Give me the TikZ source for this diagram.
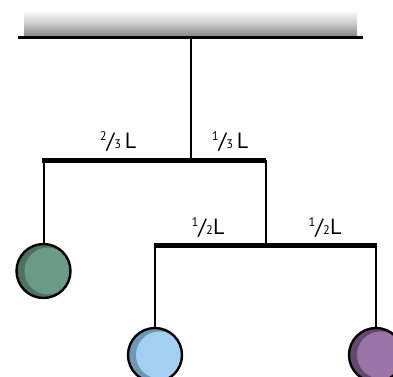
\documentclass[tikz,border=0pt]{standalone}
\usepackage{fontspec}
\setmainfont{PT Sans}
\usetikzlibrary{calc}
\definecolor{gmain}{HTML}{6B9A89}
\definecolor{gdark}{HTML}{4D7164}
\definecolor{bmain}{HTML}{A3D0F0}
\definecolor{bdark}{HTML}{6F97B4}
\definecolor{pmain}{HTML}{9B74A7}
\definecolor{pdark}{HTML}{644A70}
\definecolor{ceilgray}{HTML}{858585}
\newcommand{\myfrac}[2]{{\raisebox{0.34em}{\fontsize{12.5}{12.5}\selectfont #1}{\fontsize{22}{22}\selectfont /}{\fontsize{12.5}{12.5}\selectfont #2}}}
\tikzset{
  ball/.style n args={2}{circle, draw=black, line width=2.4pt, inner sep=0pt,
     minimum size=54pt, fill=#2,
     path picture={\fill[#1] ($(path picture bounding box.center)+(4.5pt,0)$) circle (23.5pt);}},
  stringline/.style={line width=2pt},
  barline/.style={line width=5pt},
  lab/.style={font=\fontsize{22}{22}\selectfont, inner sep=0pt, anchor=base}
}
\begin{document}
\begin{tikzpicture}[x=1pt,y=-1pt]
\useasboundingbox (0,0) rectangle (393,376);
\clip (0,0) rectangle (393,376);
% ceiling
\shade[top color=white, bottom color=ceilgray, middle color=gray!40] (24,10) rectangle (357,36.5);
\coordinate (cl) at (18,37.5);
\coordinate (cr) at (363,37.5);
\coordinate (cm) at (191,37.5);
\draw[line width=2.5pt] (cl) -- (cr);
% bar 1
\coordinate (b1l) at (42,160);
\coordinate (b1m) at (191,160);
\coordinate (b1r) at (266,160);
\coordinate (b1lh) at (43.5,160);
\coordinate (b1rh) at (265.5,160);
% bar 2
\coordinate (b2l) at (154,245);
\coordinate (b2m) at (265.5,245);
\coordinate (b2r) at (377,245);
\coordinate (b2lh) at (155,245);
\coordinate (b2rh) at (376,245);
% balls
\node[ball={gmain}{gdark}] (g) at (43.5,271) {};
\node[ball={bmain}{bdark}] (bl) at (155,355) {};
\node[ball={pmain}{pdark}] (pu) at (376,355) {};
% strings
\draw[stringline] (cm) -- (b1m);
\draw[stringline] (b1lh) -- (g);
\draw[stringline] (b1rh) -- (b2m);
\draw[stringline] (b2lh) -- (bl);
\draw[stringline] (b2rh) -- (pu);
% bars
\draw[barline] (b1l) -- (b1r);
\draw[barline] (b2l) -- (b2r);
% labels
\node[lab] (t1) at (118,148) {\myfrac{2}{3}\,L};
\node[lab] (t2) at (230,148) {\myfrac{1}{3}\,L};
\node[lab] (t3) at (208,234) {\myfrac{1}{2}L};
\node[lab] (t4) at (325,234) {\myfrac{1}{2}L};
\end{tikzpicture}
\end{document}
